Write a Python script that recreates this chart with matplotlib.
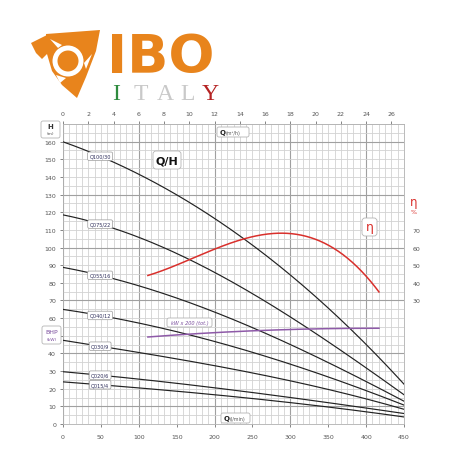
import numpy as np
import matplotlib
matplotlib.use("Agg")
import matplotlib.pyplot as plt
from matplotlib.patches import Polygon, Circle, FancyBboxPatch

# ---------------- data ----------------
flow_lmin = [0, 50, 100, 150, 200, 250, 300, 350, 400, 450]
models = ["Q100/30", "Q075/22", "Q055/16", "Q040/12", "Q030/9", "Q020/6", "Q015/4"]
head_q100_30 = [160, 151, 142, 130.5, 116, 100.5, 85, 66, 45, 22.5]
head_q075_22 = [118.5, 113.5, 105.5, 96, 86, 74, 62, 46.5, 30, 17.5]
head_q055_16 = [89, 84, 78, 71, 64, 55, 45, 35, 23, 13.5]
head_q040_12 = [65, 61.5, 57, 52, 47, 41, 34, 26.5, 18.5, 11]
head_q030_9 = [47.5, 44, 40.5, 36.5, 33.5, 29, 24.5, 19.5, 14, 8.5]
head_q020_6 = [29.7, 27.5, 25.5, 23, 20.5, 18, 15, 12, 9, 6]
head_q015_4 = [24, 22, 20.5, 18.5, 16.8, 14.5, 12, 9.5, 7, 4]
heads = [head_q100_30, head_q075_22, head_q055_16, head_q040_12,
         head_q030_9, head_q020_6, head_q015_4]

eff_flow = [112, 150, 200, 240, 270, 290, 310, 330, 350, 370, 390, 405, 417]
eff_pct = [44, 50.5, 59, 64.5, 67.5, 68.3, 68, 66, 60.5, 55, 48.5, 42, 34.5]

kw_flow = [112, 150, 200, 250, 300, 350, 417]
kw_x200 = [49.2, 50.6, 51.8, 52.8, 53.5, 54, 54.3]

bottom_ticks = [0, 50, 100, 150, 200, 250, 300, 350, 400, 450]
top_ticks = [0, 2, 4, 6, 8, 10, 12, 14, 16, 18, 20, 22, 24, 26]
left_ticks = [0, 10, 20, 30, 40, 50, 60, 70, 80, 90, 100, 110, 120, 130, 140, 150, 160]
eta_ticks = [30, 40, 50, 60, 70]


def smooth(x, y, deg):
    """Smooth rendering of a read-off curve with a least-squares polynomial."""
    coef = np.polyfit(x, y, deg)
    xs = np.linspace(min(x), max(x), 200)
    return xs, np.polyval(coef, xs)


# ---------------- figure ----------------
W = 456
fig = plt.figure(figsize=(4.56, 4.56), dpi=100)
ax = fig.add_axes([63 / W, 31 / W, 341 / W, 300 / W])
ax.set_xlim(0, 450)
ax.set_ylim(0, 170)

minor_c = "#d2d2d2"
major_c = "#a0a0a0"
for xv in np.arange(0, 450.01, 25 / 3):
    is_major = abs(xv / 100 - round(xv / 100)) < 1e-6
    ax.axvline(xv, color=major_c if is_major else minor_c,
               lw=0.8 if is_major else 0.6, zorder=0)
for yv in np.arange(0, 170.01, 5):
    is_major = (yv - 10) % 30 == 0
    ax.axhline(yv, color=major_c if is_major else minor_c,
               lw=0.8 if is_major else 0.6, zorder=0)

for sp in ax.spines.values():
    sp.set_color("#b0b0b0")
    sp.set_linewidth(0.6)

tick_c = "#555555"
ax.set_xticks(bottom_ticks)
ax.set_yticks(left_ticks)
ax.tick_params(axis="both", labelsize=4.5, colors=tick_c, length=2, width=0.5)
ax.tick_params(axis="x", pad=5)
ax.tick_params(axis="y", pad=3)

top = ax.secondary_xaxis("top", functions=(lambda q: q * 0.06, lambda m: m / 0.06))
top.set_xticks(top_ticks)
top.tick_params(labelsize=4.5, colors=tick_c, length=2, width=0.5, pad=4)
top.spines["top"].set_visible(False)

right = ax.secondary_yaxis("right", functions=(lambda h: h - 40, lambda e: e + 40))
right.set_yticks(eta_ticks)
right.tick_params(labelsize=4.5, colors=tick_c, length=0, pad=6)
right.spines["right"].set_visible(False)

# pump curves
for name, h in zip(models, heads):
    xs, ys = smooth(flow_lmin, h, 3)
    ax.plot(xs, ys, color="#222222", lw=0.85, zorder=3)
    ly = np.interp(49, xs, ys)
    ax.text(49, ly, name, fontsize=3.6, color="#2d2d5a", ha="center", va="center",
            zorder=5,
            bbox=dict(boxstyle="round,pad=0.35,rounding_size=0.3", fc="white",
                      ec="#9a9a9a", lw=0.5))

xs, ys = smooth(eff_flow, eff_pct, 4)
ax.plot(xs, ys + 40, color="#d9302c", lw=1.1, zorder=4)
xs, ys = smooth(kw_flow, kw_x200, 2)
ax.plot(xs, ys, color="#8e5aa8", lw=1.1, zorder=4)

# ---------------- overlay in pixel coords ----------------
lax = fig.add_axes([0, 0, 1, 1])
lax.set_xlim(0, W)
lax.set_ylim(W, 0)
lax.axis("off")


def box(x0, y0, x1, y1, ec="#b5b5b5", r=2):
    lax.add_patch(FancyBboxPatch((x0, y0), x1 - x0, y1 - y0,
                                 boxstyle=f"round,pad=0,rounding_size={r}",
                                 fc="white", ec=ec, lw=0.6, zorder=6))


box(41, 122, 60, 139)
lax.text(50.5, 127.5, "H", fontsize=5, fontweight="bold", color="#333333",
         ha="center", va="center", zorder=7)
lax.text(50.5, 134.5, "(m)", fontsize=3.2, color="#555555", ha="center",
         va="center", zorder=7)
box(42, 327, 61, 345)
lax.text(51.5, 333, "BHP", fontsize=4.5, color="#7b4f9e", ha="center",
         va="center", zorder=7)
lax.text(51.5, 340.5, "(kW)", fontsize=3.2, color="#7b4f9e", ha="center",
         va="center", zorder=7)

box(153, 152, 181, 170, r=3)
lax.text(167, 161.5, "Q/H", fontsize=8, fontweight="bold", color="#111111",
         ha="center", va="center", zorder=7)
box(217, 128, 249, 138)
lax.text(220, 133.3, "Q", fontsize=5, fontweight="bold", color="#222222",
         ha="left", va="center", zorder=7)
lax.text(226, 133.5, "(m³/h)", fontsize=3.4, color="#555555", ha="left",
         va="center", zorder=7)
box(221, 414, 250, 424)
lax.text(224, 419.3, "Q", fontsize=5, fontweight="bold", color="#222222",
         ha="left", va="center", zorder=7)
lax.text(230, 419.5, "(l/min)", fontsize=3.4, color="#555555", ha="left",
         va="center", zorder=7)
box(362, 219, 377, 237, r=3)
lax.text(369.5, 227.5, "η", fontsize=9, color="#d9302c", ha="center",
         va="center", zorder=7)
box(167, 319, 212, 328)
lax.text(189.5, 323.5, "kW x 200 (tot.)", fontsize=3.6, style="italic",
         color="#7b4f9e", ha="center", va="center", zorder=7)
lax.text(414, 203, "η", fontsize=8.5, color="#d9302c", ha="center", va="center")
lax.text(414, 212.5, "%", fontsize=4.5, color="#d9302c", ha="center", va="center")

# ---------------- logo ----------------
orange = "#e8841c"
lax.add_patch(Polygon([(46, 35), (100, 31), (96, 52), (86, 78), (77, 99),
                       (62, 86), (52, 72), (47, 55)], closed=True, fc=orange,
                      ec="none"))
lax.add_patch(Polygon([(31, 44), (47, 36), (50, 52), (42, 60), (36, 54)],
                      closed=True, fc=orange, ec="none"))
lax.add_patch(Circle((68, 62), 15.5, fc="white", ec="none"))
lax.add_patch(Circle((68, 62), 10.5, fc=orange, ec="none"))
lax.add_patch(Polygon([(50, 40), (62, 46), (58, 49)], closed=True, fc="white",
                      ec="none"))
lax.add_patch(Polygon([(84, 64), (92, 55), (86, 70)], closed=True, fc="white",
                      ec="none"))
lax.add_patch(Polygon([(56, 76), (66, 79), (60, 84)], closed=True, fc="white",
                      ec="none"))

lax.text(107, 73, "IBO", fontsize=39, fontweight="heavy", color=orange,
         ha="left", va="baseline", family="DejaVu Sans")
for ch, xc, col in zip("ITALY", [116, 141, 165, 188, 210],
                       ["#2e8b3e", "#c9c9c9", "#c9c9c9", "#c9c9c9", "#b52222"]):
    lax.text(xc, 100, ch, fontsize=17, color=col, ha="center", va="baseline",
             family="Liberation Serif")

fig.savefig("out.png", dpi=100)
